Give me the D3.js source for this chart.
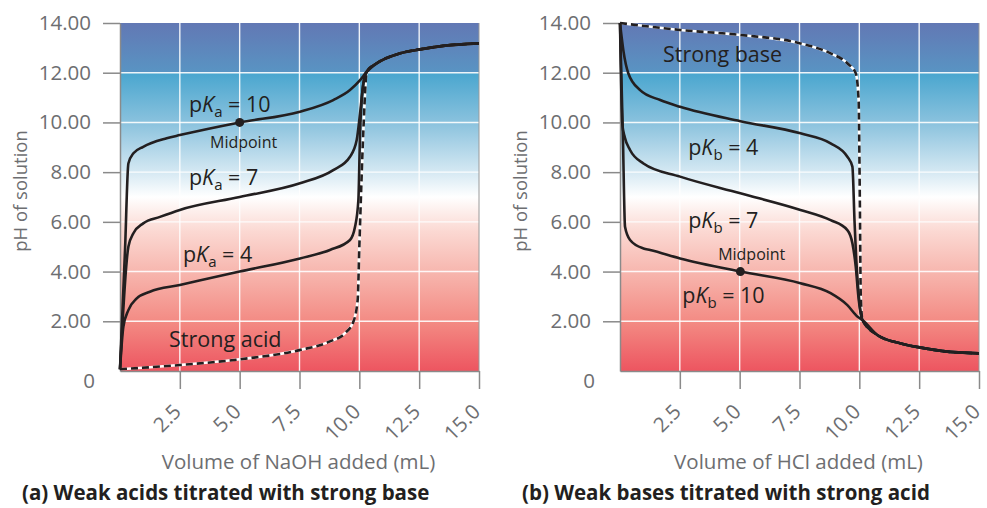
<!DOCTYPE html>
<html lang="en">
<head>
  <meta charset="UTF-8">
  <title>Titration curves</title>
  <style>
    body { margin: 0; background: #fff; }
    text { font-family: "Open Sans", "Noto Sans", sans-serif; }
  </style>
</head>
<body>
  <svg width="987" height="508"></svg>
  <script src="https://cdn.jsdelivr.net/npm/d3@7/dist/d3.min.js"></script>
  <script>
    // ticks
    var volumeTicks = [2.5, 5.0, 7.5, 10.0, 12.5, 15.0]
    var phTicks = [2, 4, 6, 8, 10, 12, 14]

    // (a) weak acids + NaOH  -- [mL, pH]
    var acidTail = [[10.73, 12.38], [11.7, 12.78], [12.54, 12.94], [13.5, 13.08], [15, 13.18]]
    var acidStrong = [[0, 0.07], [1.25, 0.15], [2.5, 0.24], [5, 0.47], [7.5, 0.84], [8.75, 1.18], [9.4, 1.52],
      [9.75, 1.98], [9.93, 2.86], [10.0, 5.0], [10.17, 9.7], [10.31, 12.04]]
    var acidPka4 = [[0, 0.07], [0.14, 1.78], [0.35, 2.45], [0.7, 2.92], [1.25, 3.19], [2.5, 3.46], [5, 4.0],
      [7.52, 4.53], [8.77, 4.87], [9.61, 5.27], [9.82, 5.8], [9.96, 6.88], [10.03, 9.57], [10.17, 11.58], [10.31, 12.04]]
    var acidPka7 = [[0, 0.07], [0.35, 5.0], [0.56, 5.54], [0.97, 5.94], [1.67, 6.2], [2.5, 6.48], [5, 7.0],
      [7.52, 7.55], [8.91, 8.08], [9.61, 8.62], [9.89, 9.29], [10.03, 10.36], [10.17, 11.57], [10.31, 12.04]]
    var acidPka10 = [[0, 0.07], [0.21, 4.87], [0.35, 8.35], [0.56, 8.76], [0.97, 9.02], [1.95, 9.36], [2.5, 9.49],
      [5, 10.0], [7.52, 10.43], [8.91, 10.9], [9.61, 11.3], [10.03, 11.7], [10.31, 12.04]]

    // (b) weak bases + HCl
    var baseTail = [[10.75, 1.45], [11.73, 1.11], [12.57, 0.94], [13.5, 0.8], [15, 0.71]]
    var baseStrong = [[0, 14], [2.51, 13.72], [5.03, 13.52], [7.54, 13.18], [8.8, 12.78], [9.5, 12.38],
      [9.85, 11.98], [9.97, 10.9], [10.02, 7.0], [10.06, 3.0], [10.13, 2.05]]
    var basePkb4 = [[0, 14], [0.14, 12.9], [0.35, 11.97], [0.84, 11.3], [1.68, 10.9], [2.51, 10.63], [5.03, 10.05],
      [7.54, 9.56], [8.8, 9.16], [9.5, 8.62], [9.71, 8.22], [9.8, 6.0], [9.87, 4.5], [9.98, 3.0], [10.13, 2.05]]
    var basePkb7 = [[0, 14], [0.1, 9.9], [0.2, 9.4], [0.42, 8.89], [0.98, 8.35], [2.51, 7.82], [5.03, 7.15],
      [7.54, 6.48], [8.8, 6.07], [9.5, 5.67], [9.71, 5.14], [9.85, 4.2], [9.96, 3.0], [10.13, 2.05]]
    var basePkb10 = [[0, 14], [0.12, 9.5], [0.21, 5.8], [0.42, 5.27], [0.98, 4.93], [1.26, 4.87], [2.51, 4.53],
      [5.03, 4.0], [7.54, 3.53], [8.8, 3.13], [9.5, 2.65], [9.93, 2.18], [10.13, 2.05]]

    var svg = d3.select("svg")
    var W = 359, H = 348

    // background gradient, blue (basic) to red (acidic)
    var defs = svg.append("defs")
    var grad = defs.append("linearGradient").attr("id", "phGrad")
      .attr("x1", 0).attr("y1", 0).attr("x2", 0).attr("y2", 1)
    var stops = [
      [0, "#6278b4"], [0.142, "#5994c3"], [0.145, "#4aa6cf"], [0.29, "#8cc3de"],
      [0.43, "#d6e9f3"], [0.5, "#ffffff"], [0.54, "#fdefec"], [0.6, "#fbd8d2"],
      [0.72, "#f7b5ad"], [0.86, "#f38a83"], [1, "#ed5560"]
    ]
    stops.forEach(s => grad.append("stop").attr("offset", s[0]).attr("stop-color", s[1]))

    function drawPanel(ox, curves, dashed, xTitle, title, labels, mid) {
      var g = svg.append("g").attr("transform", "translate(" + ox + ",23)")
      var x = d3.scaleLinear().domain([0, 15]).range([0, W])
      var y = d3.scaleLinear().domain([0, 14]).range([H, 0])

      g.append("rect").attr("width", W).attr("height", H).attr("fill", "url(#phGrad)")

      // white grid
      g.selectAll(".gx").data(volumeTicks.slice(0, -1)).enter().append("line")
        .attr("x1", d => x(d)).attr("x2", d => x(d)).attr("y1", 0).attr("y2", H)
        .attr("stroke", "#fff").attr("stroke-width", 1.4).attr("opacity", 0.9)
      g.selectAll(".gy").data(phTicks.slice(0, -1)).enter().append("line")
        .attr("y1", d => y(d)).attr("y2", d => y(d)).attr("x1", 0).attr("x2", W)
        .attr("stroke", "#fff").attr("stroke-width", 1.4).attr("opacity", 0.9)

      // axes
      var xAxis = g.append("g").attr("transform", "translate(0," + H + ")")
        .call(d3.axisBottom(x).tickValues(volumeTicks).tickSize(18).tickSizeOuter(0).tickFormat(d3.format(".1f")))
      xAxis.select(".domain").attr("stroke", "#8a8a8a").attr("stroke-width", 1.5)
      xAxis.selectAll(".tick line").attr("stroke", "#8a8a8a").attr("stroke-width", 1.5)
      xAxis.selectAll(".tick text")
        .attr("fill", "#6d6e71").style("font-size", "20.5px")
        .attr("text-anchor", "end")
        .attr("transform", "translate(2,42) rotate(-45)")
        .attr("dy", "0").attr("y", 0).attr("x", 0)

      var yAxis = g.append("g")
        .call(d3.axisLeft(y).tickValues(phTicks).tickSize(17).tickSizeOuter(0).tickPadding(12).tickFormat(d3.format(".2f")))
      yAxis.select(".domain").attr("stroke", "#8a8a8a").attr("stroke-width", 1.5)
      yAxis.selectAll(".tick line").attr("stroke", "#8a8a8a").attr("stroke-width", 1.5)
      yAxis.selectAll(".tick text").attr("fill", "#6d6e71").style("font-size", "20.5px")
      yAxis.append("text").attr("x", -25).attr("y", y(0) + 17)
        .attr("text-anchor", "end").attr("fill", "#6d6e71").style("font-size", "20.5px").text("0")

      g.append("line").attr("x1", W).attr("x2", W).attr("y1", 0).attr("y2", H)
        .attr("stroke", "#9a9a9a").attr("stroke-width", 1)

      var line = d3.line().x(d => x(d[0])).y(d => y(d[1])).curve(d3.curveMonotoneX)

      // dashed strong acid / base: white under black dashes
      g.append("path").attr("d", line(dashed)).attr("fill", "none")
        .attr("stroke", "#fff").attr("stroke-width", 2.6)
      g.append("path").attr("d", line(dashed)).attr("fill", "none")
        .attr("stroke", "#231f20").attr("stroke-width", 2.6).attr("stroke-dasharray", "7,4")

      g.selectAll(".curve").data(curves).enter().append("path")
        .attr("d", d => line(d)).attr("fill", "none")
        .attr("stroke", "#231f20").attr("stroke-width", 2.6)

      g.append("circle").attr("cx", x(mid[0])).attr("cy", y(mid[1])).attr("r", 4.5).attr("fill", "#231f20")
      g.append("text").attr("x", x(mid[2])).attr("y", y(mid[3]))
        .attr("fill", "#231f20").style("font-size", "16px").text("Midpoint")

      labels.forEach(function (l) {
        var t = g.append("text").attr("x", x(l.x)).attr("y", y(l.y))
          .attr("fill", "#231f20").style("font-size", "21.5px")
        if (l.sub) {
          t.append("tspan").text("p")
          t.append("tspan").style("font-style", "italic").text("K")
          t.append("tspan").attr("dy", 5).style("font-size", "15px").text(l.sub)
          t.append("tspan").attr("dy", -5).text(" = " + l.val)
        } else {
          t.text(l.text)
        }
      })

      // axis titles
      g.append("text").attr("x", W / 2 - 1).attr("y", 446)
        .attr("text-anchor", "middle").attr("fill", "#6d6e71").style("font-size", "20.5px").text(xTitle)
      g.append("text").attr("transform", "translate(" + (-93) + "," + 168 + ") rotate(-90)")
        .attr("text-anchor", "middle").attr("fill", "#6d6e71").style("font-size", "18.5px").text("pH of solution")
      g.append("text").attr("x", -98).attr("y", 477)
        .attr("fill", "#231f20").style("font-size", "20.5px").style("font-weight", "bold").text(title)
    }

    drawPanel(120, [acidPka4.concat(acidTail), acidPka7.concat(acidTail), acidPka10.concat(acidTail)],
      acidStrong.concat(acidTail), "Volume of NaOH added (mL)", "(a) Weak acids titrated with strong base",
      [{ sub: "a", val: "10", x: 2.88, y: 10.42 }, { sub: "a", val: "7", x: 2.88, y: 7.48 },
        { sub: "a", val: "4", x: 2.63, y: 4.38 }, { text: "Strong acid", x: 2.05, y: 0.97 }],
      [5, 10, 3.76, 8.97])

    drawPanel(620, [basePkb4.concat(baseTail), basePkb7.concat(baseTail), basePkb10.concat(baseTail)],
      baseStrong.concat(baseTail), "Volume of HCl added (mL)", "(b) Weak bases titrated with strong acid",
      [{ sub: "b", val: "4", x: 2.85, y: 8.7 }, { sub: "b", val: "7", x: 2.85, y: 5.75 },
        { sub: "b", val: "10", x: 2.6, y: 2.75 }, { text: "Strong base", x: 1.8, y: 12.43 }],
      [5.03, 4.0, 4.1, 4.46])
  </script>
</body>
</html>
